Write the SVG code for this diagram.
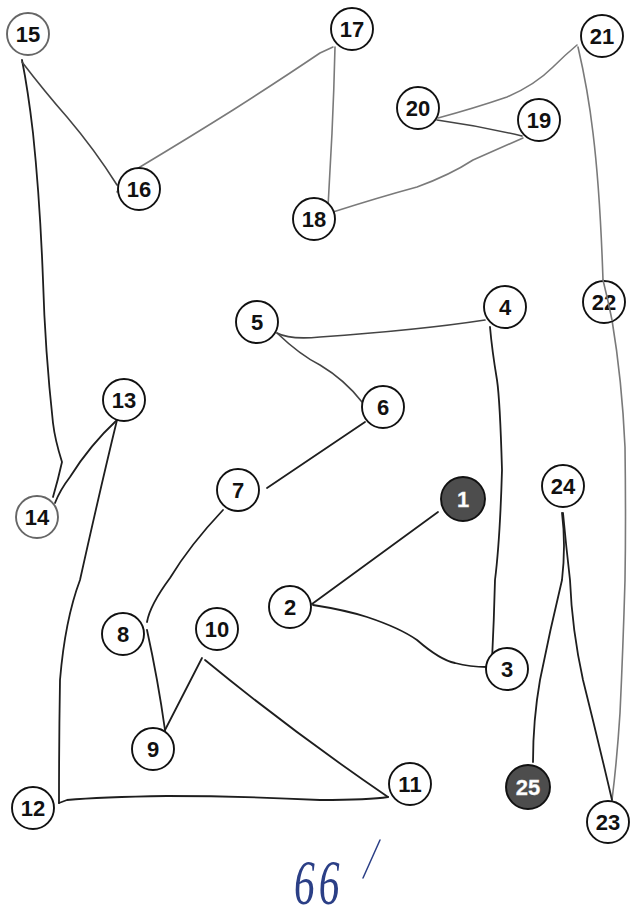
<svg xmlns="http://www.w3.org/2000/svg" width="631" height="919" viewBox="0 0 631 919">
<defs>
<style>
.bg{fill:#ffffff}
.c{fill:none;stroke-linecap:round;stroke-linejoin:round}
.dk{stroke:#1e1e1e;stroke-width:1.8}
.md{stroke:#444;stroke-width:1.6}
.lt{stroke:#7a7a7a;stroke-width:1.6}
.n circle{fill:#ffffff;stroke:#111;stroke-width:1.9}
.n text{font-family:"Liberation Sans","DejaVu Sans",sans-serif;font-size:22px;font-weight:bold;fill:#111;text-anchor:middle;dominant-baseline:central}
.f circle{fill:#4d4d4d;stroke:#111;stroke-width:1.9}
.f text{font-family:"Liberation Sans","DejaVu Sans",sans-serif;font-size:22px;font-weight:bold;fill:#ffffff;text-anchor:middle;dominant-baseline:central;stroke:#e8e8e8;stroke-width:0.3}
.pale circle{stroke:#666}
.hw{font-family:"Liberation Serif",serif;font-style:italic;font-size:64px;fill:#2b3f86;letter-spacing:6px}
</style>
</defs>
<rect class="bg" x="0" y="0" width="631" height="919"/>
<g id="connectors">
<path class="c dk" d="M438,512 L312,604"/>
<path class="c dk" d="M313,605 Q345,610 367,617 Q400,628 417,640 Q440,660 455,663 Q470,667 487,667"/>
<path class="c dk" d="M492,660 Q494,620 495,580 Q500,540 502,470 Q500,400 497,380 Q492,350 490,327"/>
<path class="c md" d="M485,320 Q420,330 320,337 Q290,340 277,333"/>
<path class="c md" d="M277,333 Q300,355 320,365 Q345,380 362,402"/>
<path class="c dk" d="M365,422 L267,488"/>
<path class="c dk" d="M223,510 Q190,545 170,578 Q150,605 147,622"/>
<path class="c dk" d="M147,630 Q158,680 165,730"/>
<path class="c dk" d="M165,730 L202,658"/>
<path class="c dk" d="M205,660 Q290,730 388,797"/>
<path class="c dk" d="M388,797 Q370,800 320,800 Q240,796 167,796 Q100,797 67,800 L59,803"/>
<path class="c dk" d="M59,803 Q59,740 60,680 Q65,620 80,580 Q100,490 117,420"/>
<path class="c dk" d="M117,420 Q90,445 70,477 Q60,490 55,503"/>
<path class="c dk" d="M53,497 Q58,480 62,462 Q55,440 53,423 Q45,350 43,280 Q40,200 33,133 Q28,90 22,60"/>
<path class="c md" d="M22,62 Q45,92 67,117 Q95,150 117,185"/>
<path class="c lt" d="M117,192 Q125,178 140,167 Q190,137 233,110 Q280,80 320,53 L333,47"/>
<path class="c lt" d="M335,47 Q334,90 332,133 Q330,170 328,207"/>
<path class="c lt" d="M333,212 Q380,197 417,187 Q450,175 473,160 Q500,148 523,138"/>
<path class="c md" d="M522,136 Q480,126 437,120"/>
<path class="c lt" d="M438,118 Q475,108 507,97 Q535,85 553,67 Q565,55 577,45"/>
<path class="c lt" d="M578,47 Q588,90 593,133 Q600,190 603,280 Q608,300 612,320 Q622,380 625,447 Q626,520 625,580 Q623,650 620,713 Q617,760 612,800"/>
<path class="c dk" d="M612,800 Q598,740 583,680 Q572,630 570,580 Q566,545 563,513"/>
<path class="c dk" d="M562,513 Q566,545 562,580 Q550,630 540,680 Q533,720 533,762"/>
</g>
<g id="node-1" class="f"><circle cx="463" cy="499" r="22"/><text x="463" y="499">1</text></g>
<g id="node-2" class="n"><circle cx="290" cy="607" r="21"/><text x="290" y="607">2</text></g>
<g id="node-3" class="n"><circle cx="507" cy="669" r="21"/><text x="507" y="669">3</text></g>
<g id="node-4" class="n"><circle cx="505" cy="307" r="21"/><text x="505" y="307">4</text></g>
<g id="node-5" class="n"><circle cx="257" cy="322" r="21"/><text x="257" y="322">5</text></g>
<g id="node-6" class="n"><circle cx="383" cy="407" r="21"/><text x="383" y="407">6</text></g>
<g id="node-7" class="n"><circle cx="238" cy="490" r="21"/><text x="238" y="490">7</text></g>
<g id="node-8" class="n"><circle cx="123" cy="634" r="21"/><text x="123" y="634">8</text></g>
<g id="node-9" class="n"><circle cx="153" cy="749" r="21"/><text x="153" y="749">9</text></g>
<g id="node-10" class="n"><circle cx="217" cy="629" r="21"/><text x="217" y="629">10</text></g>
<g id="node-11" class="n"><circle cx="410" cy="784" r="21"/><text x="410" y="784">11</text></g>
<g id="node-12" class="n"><circle cx="33" cy="808" r="21"/><text x="33" y="808">12</text></g>
<g id="node-13" class="n"><circle cx="124" cy="400" r="21"/><text x="124" y="400">13</text></g>
<g id="node-14" class="n pale"><circle cx="37" cy="517" r="21"/><text x="37" y="517">14</text></g>
<g id="node-15" class="n pale"><circle cx="28" cy="34" r="21"/><text x="28" y="34">15</text></g>
<g id="node-16" class="n"><circle cx="139" cy="189" r="21"/><text x="139" y="189">16</text></g>
<g id="node-17" class="n"><circle cx="352" cy="29" r="21"/><text x="352" y="29">17</text></g>
<g id="node-18" class="n"><circle cx="314" cy="219" r="21"/><text x="314" y="219">18</text></g>
<g id="node-19" class="n"><circle cx="539" cy="120" r="21"/><text x="539" y="120">19</text></g>
<g id="node-20" class="n"><circle cx="418" cy="108" r="21"/><text x="418" y="108">20</text></g>
<g id="node-21" class="n"><circle cx="602" cy="36" r="21"/><text x="602" y="36">21</text></g>
<g id="node-22" class="n"><circle cx="604" cy="302" r="21"/><text x="604" y="302">22</text></g>
<g id="node-23" class="n"><circle cx="608" cy="822" r="21"/><text x="608" y="822">23</text></g>
<g id="node-24" class="n"><circle cx="563" cy="486" r="21"/><text x="563" y="486">24</text></g>
<g id="node-25" class="f"><circle cx="528" cy="787" r="22"/><text x="528" y="787">25</text></g>
<path class="c lt" d="M603,280 Q608,300 612,320"/>
<text class="hw" transform="translate(294,904) scale(0.65,1)">66</text>
<path d="M363,878 L380,840" fill="none" stroke="#2b3f86" stroke-width="1.5" stroke-linecap="round"/>
</svg>
